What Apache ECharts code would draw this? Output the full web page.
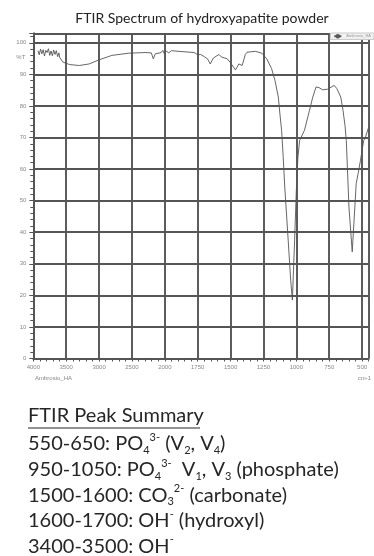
<!DOCTYPE html>
<html>
<head>
<meta charset="utf-8">
<script src="https://cdn.jsdelivr.net/npm/echarts@6/dist/echarts.min.js"></script>
<style>
  html, body { margin: 0; padding: 0; background: #fff; }
  #main { width: 374px; height: 556px; }
</style>
</head>
<body>
<div id="main"></div>
<script>
// wavenumber (cm-1) and transmittance (%T)
var wavenumber = [3930, 3910, 3890, 3870, 3850, 3830, 3810, 3790, 3770, 3750, 3730, 3710, 3690, 3670, 3650, 3630, 3610, 3600,
    3550, 3450, 3300, 3150, 3000, 2805, 2550, 2300, 2205, 2175, 2145, 2055, 2030, 2010, 1990, 1970, 1950, 1900,
    1775, 1750, 1728, 1700, 1675, 1655, 1630, 1588, 1570, 1555, 1525, 1503, 1463, 1437, 1412, 1388, 1375, 1312,
    1262, 1225, 1188, 1162, 1137, 1125, 1112, 1100, 1088, 1062, 1043, 1030, 1013, 1000, 988, 975, 938, 900,
    875, 850, 828, 800, 762, 712, 692, 662, 645, 630, 620, 612, 600, 575, 555, 545, 530, 512, 488, 475, 450];
var transmittance = [97.5, 96.2, 98.0, 96.5, 97.8, 95.8, 97.6, 96.9, 98.1, 96.0, 97.4, 95.9, 97.7, 96.3, 97.5, 95.6, 96.8, 95.4,
    93.9, 93.1, 92.8, 93.3, 94.6, 96.0, 96.7, 96.9, 96.8, 94.9, 96.5, 96.9, 97.6, 96.6, 97.4, 96.8, 97.5, 97.3,
    96.9, 96.2, 96.3, 95.6, 94.9, 93.3, 95.2, 96.3, 95.5, 95.8, 94.9, 93.8, 91.4, 93.3, 92.8, 96.3, 97.0, 97.3,
    96.7, 94.9, 91.8, 88.0, 82.8, 77.5, 72.3, 64.0, 54.3, 37.5, 24.8, 18.5, 37.5, 53.3, 63.8, 69.0, 72.3, 78.6,
    82.8, 86.0, 85.8, 85.1, 85.3, 86.5, 85.5, 82.8, 78.6, 73.8, 69.1, 60.7, 48.0, 33.8, 48.0, 55.4, 58.6, 62.8, 69.0, 70.0, 73.3];
var xTickLabels = ['4000', '3500', '3000', '2500', '2000', '1750', '1500', '1250', '1000', '750', '500'];

// the x scale halves at 2000 cm-1: one grid step is 500 above, 250 below
function toAxis(w) {
    return w >= 2000 ? (4000 - w) / 500 : 4 + (2000 - w) / 250;
}

var spectrum = wavenumber.map(function(w, i) {
    return [toAxis(w), transmittance[i]];
});

var gridLine = { color: '#555', width: 1.9 };
var tickFont = { fontSize: 6, color: '#888', fontFamily: 'Liberation Sans' };
var bodyFont = 'Lato';
var ink = '#262626';

var summary = [
    '{t|550-650: PO}{sb|4}{sp|3-}{t| (V}{sb|2}{t|, V}{sb|4}{t|)}',
    '{t|950-1050: PO}{sb|4}{sp|3-}{t|  V}{sb|1}{t|, V}{sb|3}{t| (phosphate)}',
    '{t|1500-1600: CO}{sb|3}{sp|2-}{t| (carbonate)}',
    '{t|1600-1700: OH}{sp|-}{t| (hydroxyl)}',
    '{t|3400-3500: OH}{sp|-}'
];
var rich = {
    t: { fontSize: 20, fontWeight: 'normal', fontFamily: bodyFont, color: ink, lineHeight: 24 },
    sp: { fontSize: 11, fontWeight: 'normal', fontFamily: bodyFont, color: ink, lineHeight: 24, verticalAlign: 'top', padding: [0, 0, 9, 0] },
    sb: { fontSize: 11, fontWeight: 'normal', fontFamily: bodyFont, color: ink, lineHeight: 24, verticalAlign: 'bottom', padding: [5, 0, 0, 0] }
};

var titles = [{
    text: 'FTIR Spectrum of hydroxyapatite powder',
    left: 197, top: 6, textAlign: 'center',
    textStyle: { fontSize: 14, fontWeight: 'normal', fontFamily: bodyFont, color: '#222' }
}, {
    text: 'FTIR Peak Summary',
    left: 23, top: 401,
    textStyle: { fontSize: 20, fontWeight: 'normal', fontFamily: bodyFont, color: ink }
}];
summary.forEach(function(s, i) {
    titles.push({
        text: s, left: 23, top: 427 + i * 25.6,
        textStyle: { rich: rich }
    });
});

var chart = echarts.init(document.getElementById('main'));
chart.setOption({
    animation: false,
    title: titles,
    legend: {
        data: ['Ambrosio_HA'],
        right: 0, top: 33,
        itemWidth: 7, itemHeight: 3, itemGap: 2,
        padding: [1, 3, 1, 3],
        backgroundColor: '#f2f2f2', borderColor: '#c8c8c8', borderWidth: 1,
        textStyle: { fontSize: 4, color: '#999' }
    },
    grid: { left: 33.3, right: 0.6, top: 33.3, bottom: 197.5 },
    xAxis: {
        type: 'value', min: 0, max: 10.2, interval: 1,
        name: 'cm-1', nameLocation: 'end', nameGap: -11,
        nameTextStyle: { fontSize: 6, color: '#888', verticalAlign: 'top', padding: [17, 0, 0, 0] },
        axisLine: { show: true, lineStyle: gridLine },
        axisTick: { show: true, length: 3, lineStyle: { color: '#555' } },
        minorTick: { show: true, splitNumber: 5, length: 3, lineStyle: { color: '#555' } },
        splitLine: { show: true, lineStyle: gridLine },
        axisLabel: Object.assign({
            margin: 6,
            formatter: function(v) {
                return Math.abs(v - Math.round(v)) < 1e-6 ? xTickLabels[Math.round(v)] : '';
            }
        }, tickFont)
    },
    yAxis: {
        type: 'value', min: 0, max: 103, interval: 10,
        name: '%T', nameLocation: 'end', nameGap: -27,
        nameTextStyle: { fontSize: 6, color: '#888', align: 'right', padding: [0, 8, 0, 0] },
        axisLine: { show: true, lineStyle: gridLine },
        axisTick: { show: true, length: 4, lineStyle: { color: '#555' } },
        minorTick: { show: true, splitNumber: 5, length: 3, lineStyle: { color: '#555' } },
        splitLine: { show: true, lineStyle: gridLine },
        axisLabel: Object.assign({
            margin: 7,
            formatter: function(v) { return v % 10 === 0 ? v : ''; }
        }, tickFont)
    },
    series: [{
        name: 'Ambrosio_HA',
        type: 'line',
        data: spectrum,
        showSymbol: false,
        lineStyle: { color: '#555', width: 0.9 },
        itemStyle: { color: '#555' }
    }],
    graphic: [{
        type: 'text', left: 35, top: 375,
        style: { text: 'Ambrosio_HA', fontSize: 6, fill: '#888' }
    }, {
        type: 'line',
        shape: { x1: 28, y1: 428, x2: 200, y2: 428 },
        style: { stroke: ink, lineWidth: 1 }
    }]
});
</script>
</body>
</html>
